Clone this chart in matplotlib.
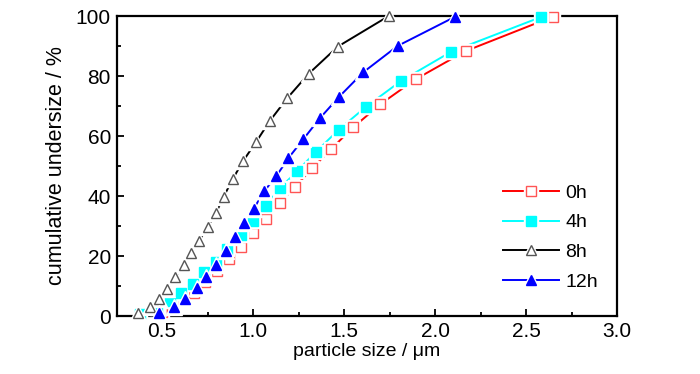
import matplotlib
matplotlib.use("Agg")
import matplotlib.pyplot as plt
from matplotlib.ticker import MultipleLocator
from matplotlib.legend_handler import HandlerTuple

plt.rcParams['font.family'] = ['Liberation Sans', 'DejaVu Sans']

# ---- data ----
x_0h = [0.498, 0.553, 0.610, 0.675, 0.739, 0.803, 0.867, 0.932, 1.000, 1.074,
        1.147, 1.230, 1.325, 1.428, 1.551, 1.700, 1.893, 2.168, 2.649]
y_0h = [1.2, 3.0, 5.2, 7.8, 11.2, 15.1, 19.1, 23.1, 27.7, 32.5,
        37.7, 43.0, 49.2, 55.6, 62.9, 70.6, 78.9, 88.3, 99.8]

x_4h = [0.378, 0.473, 0.543, 0.607, 0.672, 0.730, 0.794, 0.858, 0.932, 1.000,
        1.069, 1.149, 1.244, 1.347, 1.471, 1.622, 1.812, 2.089, 2.580]
y_4h = [0.7, 2.6, 5.1, 7.8, 10.7, 14.7, 18.1, 22.2, 27.0, 31.7,
        36.7, 42.7, 48.4, 54.8, 62.1, 69.8, 78.3, 88.1, 99.6]

x_8h = [0.367, 0.433, 0.486, 0.528, 0.574, 0.619, 0.662, 0.704, 0.752, 0.797,
        0.839, 0.889, 0.946, 1.018, 1.092, 1.188, 1.305, 1.466, 1.746]
y_8h = [0.9, 2.9, 5.8, 9.1, 12.9, 16.9, 21.1, 25.1, 29.8, 34.4,
        39.8, 45.7, 51.7, 58.1, 65.0, 72.6, 80.7, 89.8, 100.0]

x_12h = [0.482, 0.565, 0.629, 0.690, 0.744, 0.794, 0.849, 0.900, 0.949, 1.004,
         1.063, 1.129, 1.194, 1.276, 1.367, 1.472, 1.605, 1.794, 2.112]
y_12h = [1.1, 3.1, 5.8, 9.3, 12.9, 17.0, 21.7, 26.2, 30.9, 35.8,
         41.7, 46.7, 52.6, 58.9, 65.9, 73.0, 81.2, 90.0, 99.8]

labels = ['0h', '4h', '8h', '12h']
xs = [x_0h, x_4h, x_8h, x_12h]
ys = [y_0h, y_4h, y_8h, y_12h]
line_colors = ['#ff0000', '#00ffff', '#000000', '#0000ff']
marker_edge = ['#ff5555', '#00ffff', '#555555', '#0000ff']
marker_face = ['white', '#00ffff', 'white', '#0000ff']
markers = ['s', 's', '^', '^']
msizes = [6.5, 6.5, 7.5, 7.5]

fig = plt.figure(figsize=(7, 3.74), dpi=100)
ax = fig.add_axes([116.5/700, 58/374, 500.5/700, 300/374])

handles = []
for i in range(4):
    ln, = ax.plot(xs[i], ys[i], color=line_colors[i], lw=1.4, zorder=2 + i * 0.1,
                  clip_on=False)
    halo, = ax.plot(xs[i], ys[i], ls='none', marker=markers[i], ms=msizes[i] + 3.5,
                    mfc='white', mec='white', mew=1.0, zorder=3 + i * 0.1, clip_on=False)
    mk, = ax.plot(xs[i], ys[i], ls='none', marker=markers[i], ms=msizes[i],
                  mfc=marker_face[i], mec=marker_edge[i], mew=1.0, zorder=3.05 + i * 0.1,
                  clip_on=False)
    handles.append((ln, halo, mk))

ax.set_xlim(0.25, 3.0)
ax.set_ylim(0, 100)
ax.set_xticks([0.5, 1.0, 1.5, 2.0, 2.5, 3.0])
ax.set_xticklabels(['0.5', '1.0', '1.5', '2.0', '2.5', '3.0'])
ax.set_yticks([0, 20, 40, 60, 80, 100])
ax.set_yticklabels(['0', '20', '40', '60', '80', '100'])
ax.xaxis.set_minor_locator(MultipleLocator(0.25))
ax.yaxis.set_minor_locator(MultipleLocator(10))

ax.tick_params(which='both', direction='in', top=False, right=False, labelsize=15,
               width=1.3)
ax.tick_params(which='major', length=5)
ax.tick_params(which='minor', length=3)
ax.tick_params(axis='x', pad=4)
ax.tick_params(axis='y', pad=4)
for s in ax.spines.values():
    s.set_linewidth(1.6)

ax.set_xlabel('particle size / μm', fontsize=14, labelpad=2)
ax.set_ylabel('cumulative undersize / %', fontsize=15.5, labelpad=6)

leg = ax.legend(handles, labels, handler_map={tuple: HandlerTuple(ndivide=1)},
                loc='center left', bbox_to_anchor=(503/700, 1 - 237.5/374),
                bbox_transform=fig.transFigure, frameon=False, fontsize=14,
                handlelength=2.9, handletextpad=0.3, labelspacing=0.62,
                borderpad=0, borderaxespad=0, numpoints=1)

fig.savefig('out.png', dpi=100)
